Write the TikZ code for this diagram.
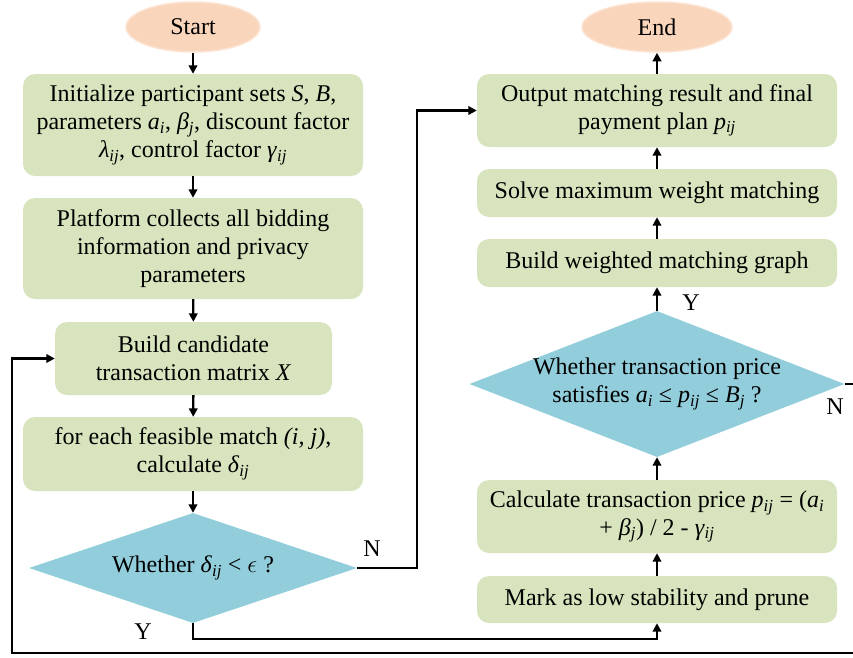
\documentclass[tikz,border=0pt]{standalone}
\usepackage{fontspec}
\setmainfont{Liberation Serif}
\usetikzlibrary{shapes.geometric,arrows.meta}
\newcommand{\lidx}[1]{\textsubscript{\textit{#1}}}
\definecolor{boxgreen}{HTML}{D7E4BD}
\definecolor{diablue}{HTML}{92CDDC}
\definecolor{peach}{HTML}{F9D5BB}
\definecolor{peachedge}{HTML}{FCE3D2}
\begin{document}
\begin{tikzpicture}[x=1pt,y=-1pt,
  every node/.style={font=\fontsize{24}{27.8}\selectfont, inner sep=0pt},
  procbox/.style={fill=boxgreen, rounded corners=12pt, align=center},
  term/.style={ellipse, fill=peach, draw=peachedge, line width=1.5pt},
  decision/.style={diamond, fill=diablue, inner sep=0pt},
  arr/.style={line width=2.4pt, -{Triangle[length=8.5pt,width=8.5pt]}}]
\useasboundingbox (0,0) rectangle (853,657);
\clip (0,0) rectangle (853,657);

% left column
\node[term, minimum width=134pt, minimum height=50pt] (start) at (193,27) {Start};
\node[procbox, minimum width=340pt, minimum height=102pt] (init) at (193,125)
  {Initialize participant sets \textit{S}, \textit{B},\\
   parameters \textit{a}\lidx{i}, \textit{β}\lidx{j}, discount factor\\
   \textit{λ}\lidx{ij}, control factor \textit{γ}\lidx{ij}};
\node[procbox, minimum width=340pt, minimum height=101pt] (plat) at (193,248.5)
  {Platform collects all bidding\\ information and privacy\\ parameters};
\node[procbox, minimum width=277pt, minimum height=73pt] (cand) at (193.5,358.5)
  {Build candidate\\ transaction matrix \textit{X}};
\node[procbox, minimum width=340pt, minimum height=74pt] (feas) at (193,454)
  {for each feasible match \textit{(i, j)},\\ calculate \textit{δ}\lidx{ij}};
\node[decision, minimum width=328pt, minimum height=110pt] (d1) at (193,568) {};
\node (d1t) at (d1.center) {Whether \textit{δ}\lidx{ij} < $\epsilon$ ?};

% right column
\node[term, minimum width=150pt, minimum height=50pt] (end) at (657,27) {End};
\node[procbox, minimum width=360pt, minimum height=73pt] (out) at (657,110.5)
  {Output matching result and final\\ payment plan \textit{p}\lidx{ij}};
\node[procbox, minimum width=360pt, minimum height=48pt] (solve) at (657,193)
  {Solve maximum weight matching};
\node[procbox, minimum width=360pt, minimum height=48pt] (bwg) at (657,263)
  {Build weighted matching graph};
\node[decision, minimum width=375pt, minimum height=146pt] (d2) at (657,384) {};
\node[align=center] (d2t) at (d2.center)
  {Whether transaction price\\ satisfies \textit{a}\lidx{i} ≤ \textit{p}\lidx{ij} ≤ \textit{B}\lidx{j} ?};
\node[procbox, minimum width=360pt, minimum height=73pt] (calc) at (657,516.5)
  {Calculate transaction price \textit{p}\lidx{ij} = (\textit{a}\lidx{i}\\
   + \textit{β}\lidx{j}) / 2 - \textit{γ}\lidx{ij}};
\node[procbox, minimum width=360pt, minimum height=47pt] (mark) at (657,599.5)
  {Mark as low stability and prune};

% branch labels
\node (n1) at (372,549) {N};
\node (y1) at (143,632) {Y};
\node (y2) at (691,303) {Y};
\node (n2) at (835,407) {N};

% loop corner points
\coordinate (loopR) at (870,653);
\coordinate (loopL) at (12,653);

% straight flow
\draw[arr] (start) -- (init);
\draw[arr] (init) -- (plat);
\draw[arr] (plat) -- (cand);
\draw[arr] (cand) -- (feas);
\draw[arr] (feas) -- (d1);
\draw[arr] (mark) -- (calc);
\draw[arr] (calc) -- (d2);
\draw[arr] (d2) -- (bwg);
\draw[arr] (bwg) -- (solve);
\draw[arr] (solve) -- (out);
\draw[arr] (out) -- (end);

% decision branches
\draw[arr] (d1.east) -- ++(60,0) |- (out.west);
\draw[arr] (d1.south) -- ++(0,16) -| (mark.south);
\draw[arr] (d2.east) -| (loopR) -- (loopL) |- (cand.west);
\end{tikzpicture}
\end{document}
